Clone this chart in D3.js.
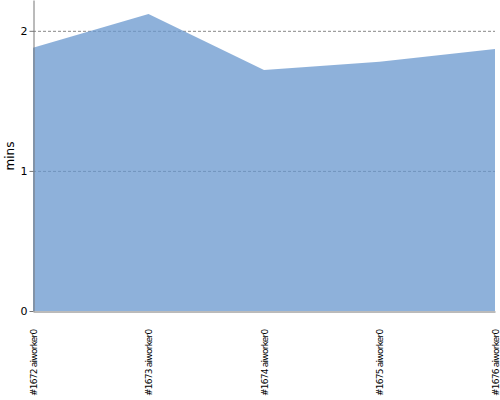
<!DOCTYPE html>
<html><head><meta charset="utf-8">
<script src="https://cdn.jsdelivr.net/npm/d3@7"></script>
<style>body{margin:0;background:#fff}svg{display:block}</style>
</head><body><svg width="500" height="400"></svg>
<script>
const categories = ["#1672 aiworker0","#1673 aiworker0","#1674 aiworker0","#1675 aiworker0","#1676 aiworker0"];
const values = [1.88, 2.12, 1.72, 1.78, 1.87];
const yTicks = [0, 1, 2];

const svg = d3.select("svg");
const m = {left: 33, right: 5, top: 0, bottom: 89};
const W = 500, H = 400;
const x = d3.scalePoint().domain(categories).range([m.left, W - m.right]);
const y = d3.scaleLinear().domain([0, 2.22]).range([H - m.bottom, m.top]);

// gridlines (under semi-transparent area)
svg.append("g").selectAll("line").data(yTicks.filter(d => d > 0)).join("line")
  .attr("x1", m.left).attr("x2", W - m.right)
  .attr("y1", d => y(d) + 0.5).attr("y2", d => y(d) + 0.5)
  .attr("stroke", "#888").attr("stroke-dasharray", "3,2").attr("stroke-width", 1);

// area
const area = d3.area().x(d => x(d.c)).y0(y(0)).y1(d => y(d.v));
svg.append("path").datum(categories.map((c, i) => ({c, v: values[i]})))
  .attr("d", area).attr("fill", "#6897CE").attr("fill-opacity", 0.75);

// y axis
const yAxis = svg.append("g").attr("transform", `translate(${m.left + 0.5},0)`)
  .call(d3.axisLeft(y).tickValues(yTicks).tickFormat(d3.format("d")).tickSize(4).tickSizeOuter(0));
yAxis.select(".domain").attr("stroke", "#777");
yAxis.selectAll(".tick line").attr("stroke", "#777");
yAxis.selectAll(".tick text").attr("font-family", "DejaVu Sans, sans-serif").attr("font-size", 11).attr("fill", "#000").attr("x", -6);

// x axis
const xAxis = svg.append("g").attr("transform", `translate(0,${y(0) + 0.5})`)
  .call(d3.axisBottom(x).tickSize(0).tickSizeOuter(0));
xAxis.select(".domain").attr("stroke", "#777");
xAxis.selectAll(".tick text")
  .attr("font-family", "DejaVu Sans, sans-serif").attr("font-size", 9).attr("letter-spacing", "-0.75px")
  .attr("fill", "#000")
  .attr("transform", "rotate(-90)")
  .attr("text-anchor", "end").attr("x", -18).attr("y", 0).attr("dy", "0.35em");

// y label
svg.append("text").text("mins")
  .attr("transform", `translate(14,156) rotate(-90)`)
  .attr("text-anchor", "middle")
  .attr("font-family", "DejaVu Sans, sans-serif").attr("font-size", 12).attr("fill", "#000");
</script></body></html>
